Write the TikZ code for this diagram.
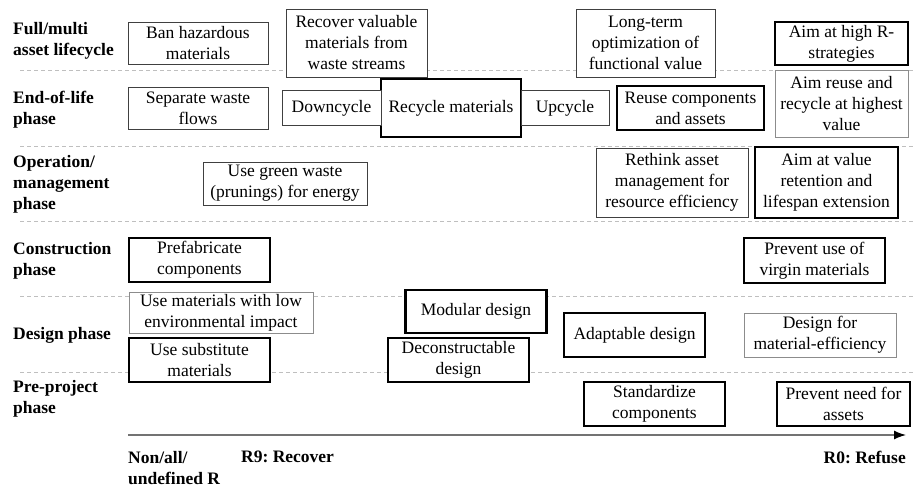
\documentclass[tikz,border=0pt]{standalone}
\usepackage{fontspec}
\setmainfont{Liberation Serif}
\usetikzlibrary{arrows.meta,positioning}
\frenchspacing

\begin{document}
\begin{tikzpicture}[x=1pt,y=-1pt,font=\fontsize{17.5}{21}\selectfont,
 lo/.style={draw=black!75,line width=0.9pt,fill=white,align=center,inner sep=1pt,outer sep=0pt},
 gr/.style={lo,draw=black!45},
 md/.style={lo,draw=black,line width=1.6pt},
 hi/.style={lo,draw=black,line width=2.6pt},
 ph/.style={anchor=west,align=left,inner sep=0pt,font=\fontsize{17.5}{21}\selectfont\bfseries},
 divider/.style={draw=black!25,line width=0.8pt,dash pattern=on 4pt off 3pt}]
\useasboundingbox (0,0) rectangle (913,487);
% phase separators
\foreach \y in {70,146,221,296,372}
  \draw[divider] (20,\y) -- (913,\y);
% phases
\node[ph] (full) at (13,41) {Full/multi\\asset lifecycle};
\node[ph] (eol) at (13,110) {End-of-life\\phase};
\node[ph] (oper) at (13,184) {Operation/\\management\\phase};
\node[ph] (cons) at (13,261) {Construction\\phase};
\node[ph] (desg) at (13,335) {Design phase};
\node[ph] (prep) at (13,399) {Pre-project\\phase};
% full/multi asset lifecycle
\node[lo,minimum width=140pt,minimum height=42pt] (ban) at (198,43) {Ban hazardous\\materials};
\node[lo,minimum width=141pt,minimum height=68pt] (recov) at (356.5,43) {Recover valuable\\materials from\\waste streams};
\node[lo,minimum width=139pt,minimum height=68pt] (longt) at (645.5,43) {Long-term\\optimization of\\functional value};
\node[hi,minimum width=133pt,minimum height=43pt] (aimhi) at (841.5,43.5) {Aim at high R-\\strategies};
% end-of-life
\node[lo,minimum width=140pt,minimum height=42pt] (sepw) at (198,108) {Separate waste\\flows};
\node[hi,minimum width=140pt,minimum height=58pt] (recyc) at (451,108) {Recycle materials};
\node[lo,minimum width=99pt,minimum height=35pt,left=0pt of recyc] (down) {Downcycle};
\node[lo,minimum width=88pt,minimum height=35pt,right=0pt of recyc] (up) {Upcycle};
\node[hi,minimum width=147pt,minimum height=44pt] (reuse) at (690.5,108) {Reuse components\\and assets};
\node[gr,minimum width=133pt,minimum height=67pt] (aimre) at (841.5,103.5) {Aim reuse and\\recycle at highest\\value};
% operation/management
\node[lo,minimum width=164pt,minimum height=43pt] (green) at (285,183.5) {Use green waste\\(prunings) for energy};
\node[lo,minimum width=152pt,minimum height=69pt] (rethink) at (672,182.5) {Rethink asset\\management for\\resource efficiency};
\node[hi,minimum width=143pt,minimum height=71pt] (aimval) at (826.5,182.5) {Aim at value\\retention and\\lifespan extension};
% construction
\node[md,minimum width=141pt,minimum height=44pt] (prefab) at (199.5,260) {Prefabricate\\components};
\node[hi,minimum width=141pt,minimum height=45pt] (virgin) at (814.5,260.5) {Prevent use of\\virgin materials};
% design
\node[gr,minimum width=184pt,minimum height=41pt] (lowimp) at (221,312.5) {Use materials with low\\environmental impact};
\node[hi,minimum width=141pt,minimum height=43pt] (modular) at (476,311.5) {Modular design};
\node[hi,minimum width=141pt,minimum height=44pt] (subst) at (199.5,360) {Use substitute\\materials};
\node[hi,minimum width=141pt,minimum height=44pt] (decon) at (458.5,360) {Deconstructable\\design};
\node[md,minimum width=141pt,minimum height=44pt] (adapt) at (634.5,335) {Adaptable design};
\node[gr,minimum width=152pt,minimum height=44pt] (dmat) at (820,335) {Design for\\material-efficiency};
% pre-project
\node[md,minimum width=141pt,minimum height=44pt] (stand) at (654.5,404) {Standardize\\components};
\node[hi,minimum width=133pt,minimum height=44pt] (prevn) at (843.5,404) {Prevent need for\\assets};
% R-ladder axis
\coordinate (ax0) at (128,435);
\coordinate (ax1) at (906,435);
\draw[black!55,line width=1.3pt,-{Latex[black,length=12pt,width=9pt]}] (ax0) -- (ax1);
\node[ph] (non) at (128,468.5) {Non/all/\\undefined R};
\node[ph] (r9) at (241,457) {R9: Recover};
\node[ph,anchor=east] (r0) at (906,457) {R0: Refuse};
\end{tikzpicture}
\end{document}
